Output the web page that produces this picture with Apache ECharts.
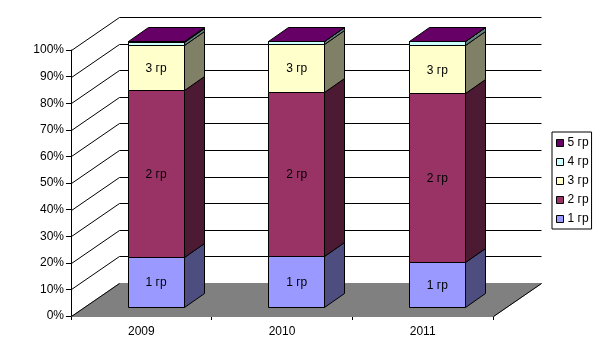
<!DOCTYPE html>
<html>
<head>
<meta charset="utf-8">
<style>html,body{margin:0;padding:0;background:#fff}#chart{width:605px;height:361px}</style>
<script src="https://cdn.jsdelivr.net/npm/echarts@6/dist/echarts.min.js"></script>
</head>
<body>
<div id="chart"></div>
<script>
var categories = ['2009', '2010', '2011']
var group1 = [18.7, 19.2, 17.0]
var group2 = [62.9, 61.5, 63.3]
var group3 = [16.9, 18.2, 18.2]
var group4 = [1.2, 1.0, 1.4]
var group5 = [0.3, 0.1, 0.1]
var yTicks = [0, 10, 20, 30, 40, 50, 60, 70, 80, 90, 100]

var seriesNames = ['1 гр', '2 гр', '3 гр', '4 гр', '5 гр']
var seriesValues = [group1, group2, group3, group4, group5]
var frontColors = ['#9999ff', '#993366', '#ffffcc', '#ccffff', '#660066']
var sideColors = ['#4d4d80', '#4d1a33', '#808066', '#668080', '#330033']
var showLabel = [true, true, true, false, false]

// 3d look: back wall is shifted from the front plane, bars have a smaller shift
var wallDx = 48
var wallDy = -33
var barDx = 20
var barDy = -14
var barShiftX = 14.2
var barShiftY = -9
var barWidth = 56

function px(v) {
    return Math.round(v) + 0.5
}

function poly(points, fill) {
    return {
        type: 'polygon',
        shape: { points: points.map(function (p) { return [px(p[0]), px(p[1])] }) },
        style: { fill: fill, stroke: '#000', lineWidth: 1 }
    }
}

function segment(x1, y1, x2, y2) {
    return {
        type: 'line',
        shape: { x1: px(x1), y1: px(y1), x2: px(x2), y2: px(y2) },
        style: { stroke: '#000', lineWidth: 1 }
    }
}

var chart = echarts.init(document.getElementById('chart'))

var series = [
    {
        // floor and wall lines, behind the bars
        type: 'custom',
        silent: true,
        z: 1,
        data: yTicks.map(function (v) { return [0, v] }),
        encode: { x: 0, y: 1 },
        renderItem: function (params, api) {
            var v = api.value(1)
            var start = api.coord([0, v])
            var end = api.coord([categories.length - 1, v])
            var half = api.size([1, 0])[0] / 2
            var x0 = start[0] - half
            var x1 = end[0] + half
            var y = start[1]
            var children = []
            if (v === 0) {
                children.push({
                    type: 'polygon',
                    shape: { points: [[px(x0), px(y)], [px(x0 + wallDx), px(y + wallDy)], [px(x1 + wallDx), px(y + wallDy)], [px(x1), px(y)]] },
                    style: { fill: '#808080', stroke: '#808080', lineWidth: 1 }
                })
                children.push(segment(x0, y, x0 + wallDx, y + wallDy))
                children.push(segment(x1, y, x1 + wallDx, y + wallDy))
            } else {
                children.push(segment(x0, y, x0 + wallDx, y + wallDy))
                children.push(segment(x0 + wallDx, y + wallDy, x1 + wallDx, y + wallDy))
            }
            return { type: 'group', children: children }
        }
    }
]

seriesNames.forEach(function (name, s) {
    series.push({
        name: name,
        type: 'custom',
        silent: true,
        z: 2 + s,
        data: categories.map(function (c, i) {
            var low = 0
            for (var k = 0; k < s; k++) {
                low += seriesValues[k][i]
            }
            return [i, low, low + seriesValues[s][i]]
        }),
        encode: { x: 0, y: [1, 2] },
        renderItem: function (params, api) {
            var bottom = api.coord([api.value(0), api.value(1)])
            var top = api.coord([api.value(0), api.value(2)])
            var xl = bottom[0] + barShiftX - barWidth / 2
            var xr = xl + barWidth
            var yb = bottom[1] + barShiftY
            var yt = top[1] + barShiftY
            var children = [
                poly([[xr, yb], [xr + barDx, yb + barDy], [xr + barDx, yt + barDy], [xr, yt]], sideColors[s]),
                poly([[xl, yb], [xr, yb], [xr, yt], [xl, yt]], frontColors[s])
            ]
            if (s === seriesNames.length - 1) {
                children.push(poly([[xl, yt], [xr, yt], [xr + barDx, yt + barDy], [xl + barDx, yt + barDy]], frontColors[s]))
            }
            if (showLabel[s]) {
                children.push({
                    type: 'text',
                    style: {
                        x: (xl + xr) / 2 + 0.5,
                        y: (yb + yt) / 2 + 1,
                        text: name,
                        fill: '#000',
                        font: '12px "Liberation Sans"',
                        align: 'center',
                        verticalAlign: 'middle'
                    }
                })
            }
            return { type: 'group', children: children }
        }
    })
})

chart.setOption({
    animation: false,
    backgroundColor: '#fff',
    textStyle: { fontFamily: 'Liberation Sans' },
    grid: { left: 71, top: 50, width: 422, height: 266 },
    legend: {
        orient: 'vertical',
        left: 552,
        top: 132,
        padding: [5, 3, 4, 4],
        itemWidth: 7,
        itemHeight: 7,
        itemGap: 7,
        borderColor: '#000',
        borderWidth: 1,
        borderRadius: 0,
        textStyle: { fontSize: 12, color: '#000', padding: [0, 0, 0, -1] },
        data: seriesNames.map(function (name, s) {
            return {
                name: name,
                icon: 'rect',
                itemStyle: { color: frontColors[s], borderColor: '#000', borderWidth: 1 }
            }
        }).reverse()
    },
    xAxis: {
        type: 'category',
        data: categories,
        boundaryGap: true,
        axisLine: { onZero: false, lineStyle: { color: '#000', width: 1 } },
        axisTick: { show: true, alignWithLabel: false, length: 4, lineStyle: { color: '#000' } },
        axisLabel: { color: '#000', fontSize: 12, margin: 10 },
        splitLine: { show: false }
    },
    yAxis: {
        type: 'value',
        min: 0,
        max: 100,
        interval: 10,
        axisLine: { show: true, lineStyle: { color: '#000', width: 1 } },
        axisTick: { show: true, length: 5, lineStyle: { color: '#000' } },
        axisLabel: { color: '#000', fontSize: 12, margin: 7, padding: [4, 0, 0, 0], formatter: '{value}%' },
        splitLine: { show: false }
    },
    series: series
})
</script>
</body>
</html>
